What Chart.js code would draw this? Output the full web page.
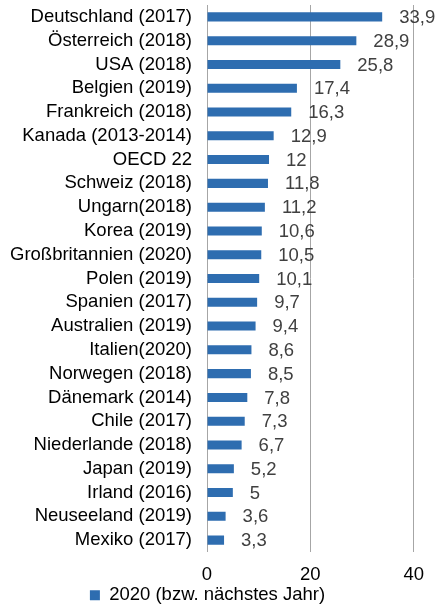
<!DOCTYPE html>
<html>
<head>
<meta charset="utf-8">
<script src="https://cdn.jsdelivr.net/npm/chart.js@4"></script>
<style>
  html, body { margin: 0; padding: 0; background: #fff; }
  #wrap { width: 436px; height: 604px; }
</style>
</head>
<body>
<div id="wrap"><canvas id="c"></canvas></div>
<script>
const countries = [
  'Deutschland (2017)', 'Österreich (2018)', 'USA (2018)', 'Belgien (2019)',
  'Frankreich (2018)', 'Kanada (2013-2014)', 'OECD 22', 'Schweiz (2018)',
  'Ungarn(2018)', 'Korea (2019)', 'Großbritannien (2020)', 'Polen (2019)',
  'Spanien (2017)', 'Australien (2019)', 'Italien(2020)', 'Norwegen (2018)',
  'Dänemark (2014)', 'Chile (2017)', 'Niederlande (2018)', 'Japan (2019)',
  'Irland (2016)', 'Neuseeland (2019)', 'Mexiko (2017)'
];
const values = [
  33.9, 28.9, 25.8, 17.4, 16.3, 12.9, 12, 11.8, 11.2, 10.6, 10.5, 10.1,
  9.7, 9.4, 8.6, 8.5, 7.8, 7.3, 6.7, 5.2, 5, 3.6, 3.3
];
const seriesName = '2020 (bzw. nächstes Jahr)';
const xTicks = [0, 20, 40];

const font = 'Liberation Sans, Arial, sans-serif';
const fontSize = 18.5;

// value labels next to the bar ends
const valueLabels = {
  id: 'valueLabels',
  afterDatasetsDraw(chart) {
    const ctx = chart.ctx;
    const meta = chart.getDatasetMeta(0);
    ctx.save();
    ctx.font = fontSize + 'px ' + font;
    ctx.fillStyle = '#404040';
    ctx.textAlign = 'left';
    ctx.textBaseline = 'middle';
    meta.data.forEach((bar, i) => {
      ctx.fillText(String(values[i]).replace('.', ','), bar.x + 17, bar.y + 1);
    });
    ctx.restore();
  }
};

new Chart(document.getElementById('c'), {
  type: 'bar',
  data: {
    labels: countries,
    datasets: [{
      label: seriesName,
      data: values,
      backgroundColor: '#2E6DB0',
      borderWidth: 0,
      categoryPercentage: 0.38,
      barPercentage: 1
    }]
  },
  options: {
    indexAxis: 'y',
    responsive: true,
    maintainAspectRatio: false,
    animation: false,
    layout: { padding: { top: 5, right: 21, left: 0, bottom: 0 } },
    scales: {
      x: {
        min: 0,
        max: 40,
        afterBuildTicks(scale) { scale.ticks = xTicks.map(v => ({ value: v })); },
        afterFit(scale) { scale.height = 34; },
        grid: { color: '#a6a6a6', drawTicks: false },
        border: { display: false },
        ticks: { padding: 12, color: '#000', font: { family: font, size: fontSize } }
      },
      y: {
        afterFit(scale) {
          scale.width = 207;
          scale.paddingTop = 0;
          scale.paddingBottom = 0;
        },
        grid: { display: false, drawTicks: false },
        border: { display: false },
        ticks: { autoSkip: false, padding: 15, color: '#000', font: { family: font, size: fontSize } }
      }
    },
    plugins: {
      legend: {
        position: 'bottom',
        maxHeight: 18,
        labels: {
          boxWidth: 10,
          boxHeight: 10,
          padding: 0,
          color: '#000',
          font: { family: font, size: fontSize }
        }
      },
      tooltip: { enabled: false }
    }
  },
  plugins: [valueLabels]
});
</script>
</body>
</html>
